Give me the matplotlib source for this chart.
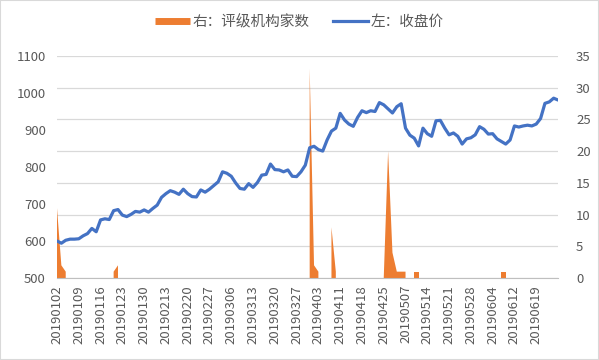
import numpy as np
import pandas as pd
import matplotlib
matplotlib.use('Agg')
import matplotlib.pyplot as plt
from matplotlib.lines import Line2D
from matplotlib.patches import Rectangle

plt.rcParams['font.family'] = ['Noto Sans CJK SC', 'DejaVu Sans']

# trading calendar (A-share holidays, H1 2019)
holidays = ['2019-01-01', '2019-02-04', '2019-02-05', '2019-02-06', '2019-02-07',
            '2019-02-08', '2019-04-05', '2019-05-01', '2019-05-02', '2019-05-03',
            '2019-06-07']

# left axis: close price
close = [600, 594, 602, 605, 605, 606, 614, 620, 634, 625,
         657, 660, 658, 682, 685, 670, 666, 672, 680, 678,
         684, 678, 688, 697, 718, 728, 736, 732, 726, 740,
         728, 720, 719, 738, 732, 740, 750, 760, 787, 783,
         775, 757, 742, 740, 755, 745, 758, 778, 780, 808,
         793, 792, 787, 792, 775, 774, 787, 805, 852, 856,
         847, 843, 873, 897, 905, 945, 927, 916, 910, 934,
         952, 947, 952, 950, 974, 968, 957, 946, 963, 971,
         905, 886, 878, 857, 905, 890, 883, 925, 926, 905,
         887, 892, 883, 862, 876, 879, 887, 909, 902, 889,
         890, 876, 869, 862, 873, 911, 908, 911, 913, 911,
         916, 931, 972, 976, 986, 981]

# right axis: number of rating agencies (blank on other days)
rating_dates = ['20190102', '20190103', '20190104', '20190121', '20190122',
                '20190401', '20190402', '20190403', '20190409', '20190410',
                '20190425', '20190426', '20190429', '20190430', '20190506', '20190507',
                '20190509', '20190510', '20190606', '20190610']
rating_cnt = [11, 2, 1, 1, 2,
              33, 2, 1, 8, 1,
              0, 20, 4, 1, 1, 1,
              1, 1, 1, 1]

days = pd.bdate_range('2019-01-02', '2019-06-30', freq='C', holidays=holidays)[:len(close)]
labels = list(days.strftime('%Y%m%d'))
x = np.arange(len(close))
rating = pd.Series(rating_cnt, index=rating_dates).reindex(labels).to_numpy(dtype=float)

orange = '#ED7D31'
blue = '#4472C4'
txt = '#595959'

fig = plt.figure(figsize=(5.99, 3.6), dpi=100)
ax = fig.add_axes([57/599, 1-278/360, (558-57)/599, (278-56)/360])
ax2 = ax.twinx()
ax.set_zorder(ax2.get_zorder() + 1)
ax.patch.set_visible(False)

ax2.fill_between(x, 0, rating, color=orange, linewidth=0)
ax.plot(x, close, color=blue, lw=2.3, solid_joinstyle='round', solid_capstyle='round')

ax.set_xlim(0, len(close) - 1)
ax.set_ylim(500, 1100)
ax.set_yticks(range(500, 1101, 100))
ax2.set_ylim(0, 35)
ax2.set_yticks(range(0, 36, 5))
ax2.yaxis.grid(True, color='#D9D9D9', lw=0.9)
ax2.set_axisbelow(True)

ticks = x[::5][:23]
ax.set_xticks(ticks)
ax.set_xticklabels([labels[i] for i in ticks], rotation=90)

for s in ['top', 'left', 'right']:
    ax.spines[s].set_visible(False)
    ax2.spines[s].set_visible(False)
ax2.spines['bottom'].set_visible(False)
ax.spines['bottom'].set_color('#BFBFBF')

ax.tick_params(axis='x', length=0, pad=5, labelsize=9.5, labelcolor=txt)
ax.tick_params(axis='y', length=0, pad=8, labelsize=9.5, labelcolor=txt)
ax2.tick_params(axis='y', length=0, pad=13, labelsize=9.5, labelcolor=txt)

handles = [Line2D([], [], color=orange, lw=5, solid_capstyle='butt'),
           Line2D([], [], color=blue, lw=2.3)]
fig.legend(handles, ['右：评级机构家数', '左：收盘价'], loc='center',
           bbox_to_anchor=(0.5, 1 - 22/360), ncol=2, frameon=False,
           fontsize=10.5, labelcolor=txt, handlelength=2.4,
           handletextpad=0.2, columnspacing=1.6)

fig.add_artist(Rectangle((0, 0), 1, 1, transform=fig.transFigure, fill=False,
                         edgecolor='#D9D9D9', lw=1.5))

fig.savefig('out.png', dpi=100)
